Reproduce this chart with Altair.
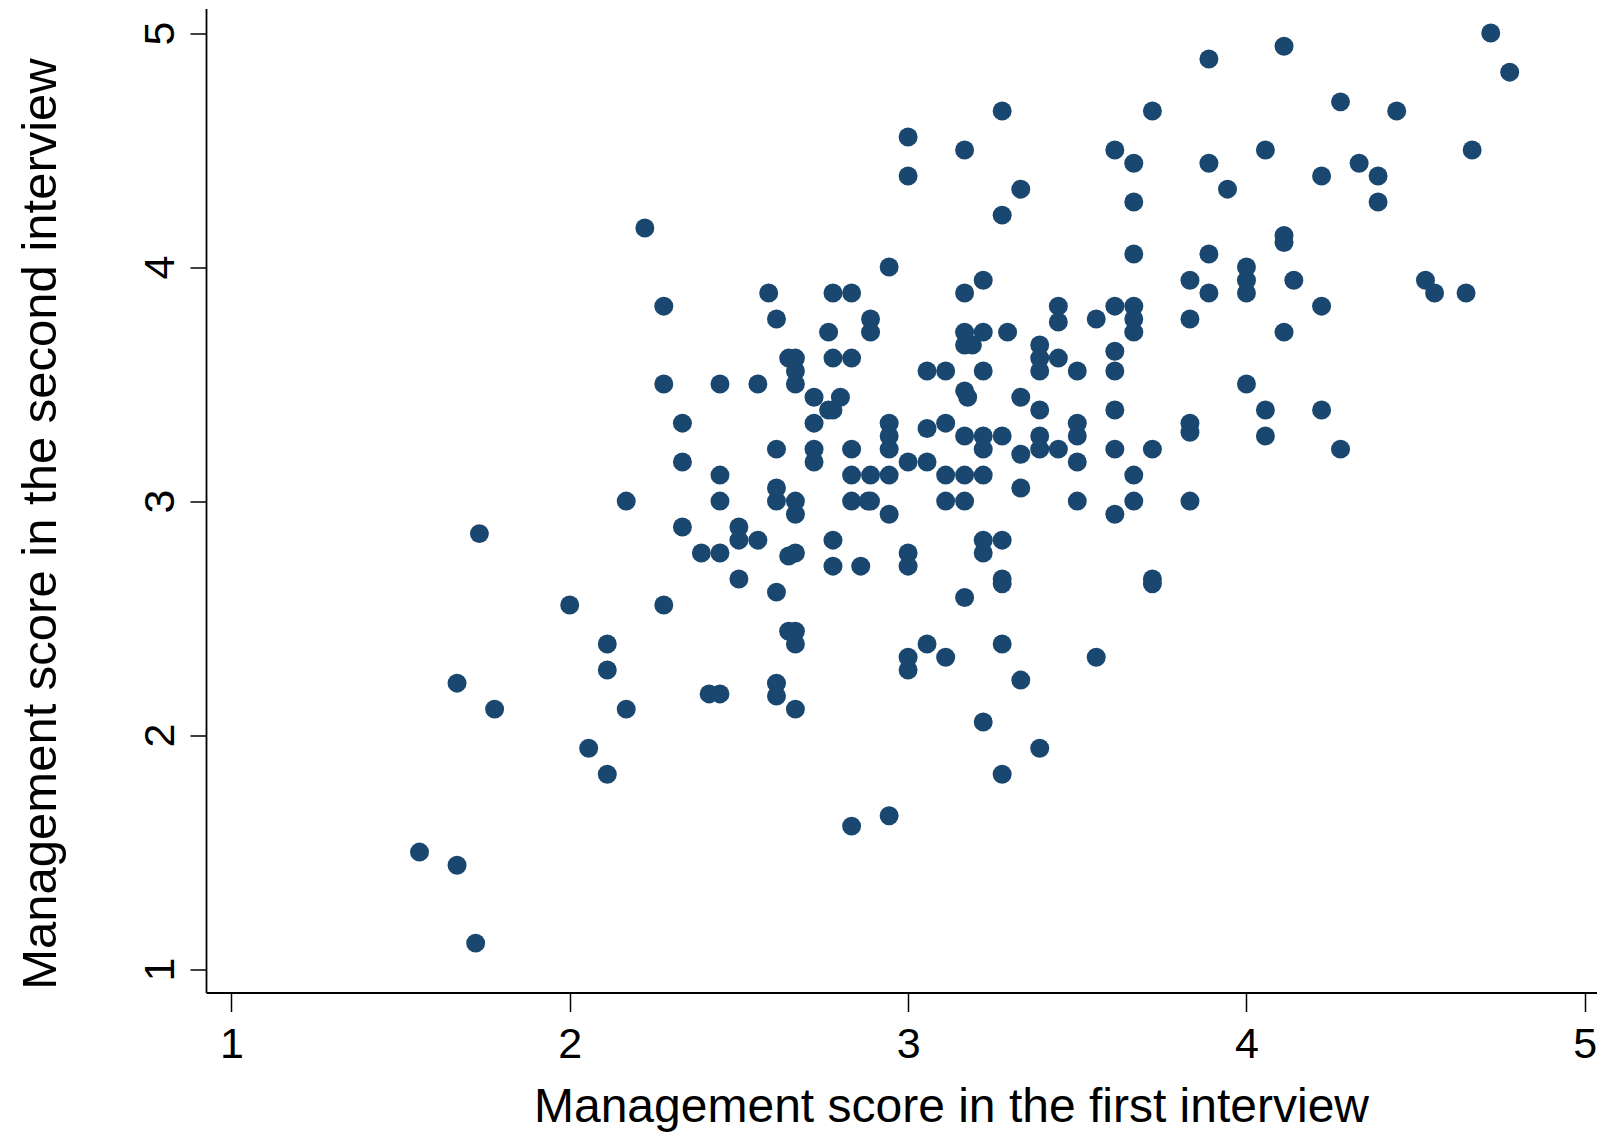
import altair as alt
import pandas as pd

# Management score in the first interview (x) and in the second interview (y)
first_interview = [
    4.722, 4.778, 4.111, 3.889, 4.278, 4.444, 3.278, 3.722, 3.0, 3.167,
    3.611, 4.056, 4.667, 3.667, 3.889, 4.333, 3.0, 4.222, 4.389, 3.333,
    3.944, 3.667, 4.389, 3.278, 2.222, 4.111, 4.111, 3.667, 3.889, 2.944,
    4.0, 3.222, 3.833, 4.0, 4.14, 4.529, 3.889, 4.0, 4.556, 4.649,
    3.167, 2.778, 2.833, 2.588, 2.611, 2.278, 4.222, 3.444, 3.444, 3.611,
    3.667, 3.667, 3.667, 3.556, 3.833, 4.111, 2.889, 2.889, 2.765, 3.167,
    3.222, 3.167, 3.19, 3.294, 3.389, 3.389, 3.389, 3.444, 3.5, 3.611,
    3.611, 2.647, 2.667, 2.667, 2.667, 2.778, 2.833, 3.056, 3.111, 3.222,
    3.167, 3.176, 3.333, 3.611, 3.389, 2.722, 2.8, 2.765, 2.778, 2.722,
    2.944, 2.944, 2.944, 3.056, 3.111, 3.167, 3.222, 3.222, 3.278, 3.333,
    3.389, 3.389, 3.444, 3.5, 3.5, 3.5, 3.611, 3.722, 3.667, 3.667,
    3.611, 3.5, 3.333, 2.722, 2.722, 2.833, 3.0, 3.056, 2.833, 2.889,
    2.944, 3.111, 3.167, 3.222, 2.667, 2.833, 2.882, 2.889, 3.111, 3.167,
    2.944, 2.278, 2.444, 2.556, 2.333, 2.333, 2.611, 2.444, 2.611, 2.611,
    2.167, 2.444, 2.667, 1.733, 2.333, 2.5, 2.5, 2.556, 2.389, 2.444,
    2.647, 2.667, 2.5, 2.611, 2.0, 2.278, 2.647, 2.667, 2.667, 2.111,
    2.111, 1.667, 1.778, 2.167, 2.412, 2.444, 2.611, 2.611, 2.667, 2.056,
    2.111, 1.556, 1.667, 1.722, 2.778, 2.778, 2.86, 3.0, 3.0, 3.222,
    3.222, 3.278, 3.278, 3.278, 3.722, 3.722, 3.167, 3.0, 3.0, 3.056,
    3.111, 3.278, 3.556, 3.333, 3.222, 3.389, 3.278, 2.833, 2.944, 3.833,
    3.833, 3.833, 4.056, 4.056, 4.222, 4.278, 4.0,
]

second_interview = [
    5.0, 4.833, 4.944, 4.889, 4.706, 4.667, 4.667, 4.667, 4.556, 4.5,
    4.5, 4.5, 4.5, 4.444, 4.444, 4.444, 4.389, 4.389, 4.389, 4.333,
    4.333, 4.278, 4.278, 4.222, 4.167, 4.135, 4.105, 4.056, 4.056, 4.0,
    4.0, 3.944, 3.944, 3.944, 3.944, 3.944, 3.889, 3.889, 3.889, 3.889,
    3.889, 3.889, 3.889, 3.889, 3.778, 3.833, 3.833, 3.833, 3.765, 3.833,
    3.833, 3.778, 3.722, 3.778, 3.778, 3.722, 3.778, 3.722, 3.722, 3.722,
    3.722, 3.667, 3.667, 3.722, 3.667, 3.611, 3.556, 3.611, 3.556, 3.64,
    3.556, 3.611, 3.611, 3.556, 3.5, 3.611, 3.611, 3.556, 3.556, 3.556,
    3.471, 3.444, 3.444, 3.389, 3.389, 3.444, 3.444, 3.389, 3.389, 3.333,
    3.333, 3.278, 3.222, 3.31, 3.333, 3.278, 3.278, 3.222, 3.278, 3.2,
    3.278, 3.222, 3.222, 3.333, 3.278, 3.167, 3.222, 3.222, 3.111, 3.0,
    2.944, 3.0, 3.056, 3.222, 3.167, 3.222, 3.167, 3.167, 3.111, 3.111,
    3.111, 3.111, 3.111, 3.111, 3.0, 3.0, 3.0, 3.0, 3.0, 3.0,
    2.944, 3.5, 3.5, 3.5, 3.333, 3.167, 3.222, 3.111, 3.056, 3.0,
    3.0, 3.0, 2.944, 2.861, 2.889, 2.889, 2.833, 2.833, 2.778, 2.778,
    2.765, 2.778, 2.667, 2.611, 2.556, 2.556, 2.444, 2.444, 2.389, 2.389,
    2.278, 2.222, 2.111, 2.111, 2.176, 2.176, 2.222, 2.167, 2.111, 1.944,
    1.833, 1.5, 1.444, 1.111, 2.833, 2.722, 2.722, 2.778, 2.722, 2.833,
    2.778, 2.833, 2.667, 2.647, 2.667, 2.647, 2.588, 2.333, 2.278, 2.389,
    2.333, 2.389, 2.333, 2.235, 2.056, 1.944, 1.833, 1.611, 1.655, 3.0,
    3.333, 3.294, 3.389, 3.278, 3.389, 3.222, 3.5,
]

tick_values = [1, 2, 3, 4, 5]

df = pd.DataFrame({"first": first_interview, "second": second_interview})

FONT = "Liberation Sans"

x_axis = alt.Axis(
    values=tick_values, format="d", grid=False,
    domainColor="black", domainWidth=1.8,
    tickColor="black", tickWidth=1.5, tickSize=19,
    labelFont=FONT, labelFontSize=43, labelColor="black",
    labelBaseline="alphabetic", labelPadding=45.8,
    labelFlush=False, labelOverlap=False,
    title="Management score in the first interview",
    titleFont=FONT, titleFontSize=48, titleFontWeight="normal",
    titleColor="black", titleAlign="center", titleBaseline="alphabetic",
    titleX=745, titleY=128.5,
)

y_axis = alt.Axis(
    values=tick_values, format="d", grid=False,
    domainColor="black", domainWidth=1.8,
    tickColor="black", tickWidth=1.5, tickSize=16,
    labelFont=FONT, labelFontSize=43, labelColor="black",
    labelAngle=270, labelAlign="center", labelBaseline="alphabetic",
    labelPadding=17, labelFlush=False, labelOverlap=False,
    title="Management score in the second interview",
    titleFont=FONT, titleFontSize=49, titleFontWeight="normal",
    titleColor="black", titleAngle=270, titleAlign="center",
    titleBaseline="alphabetic", titleX=-151, titleY=515,
)

chart = (
    alt.Chart(df)
    .mark_circle(size=360, color="#1a476f", opacity=1)
    .encode(
        x=alt.X("first:Q", scale=alt.Scale(domain=[0.925, 5.036], nice=False, zero=False), axis=x_axis),
        y=alt.Y("second:Q", scale=alt.Scale(domain=[0.9, 5.105], nice=False, zero=False), axis=y_axis),
    )
    .properties(
        width=1391,
        height=984,
        autosize=alt.AutoSizeParams(type="none"),
        padding={"left": 198, "top": 0.5, "right": 0, "bottom": 139},
        background="white",
    )
    .configure_view(stroke=None)
)

chart.save("out.html", embed_options={"renderer": "svg", "actions": False})
